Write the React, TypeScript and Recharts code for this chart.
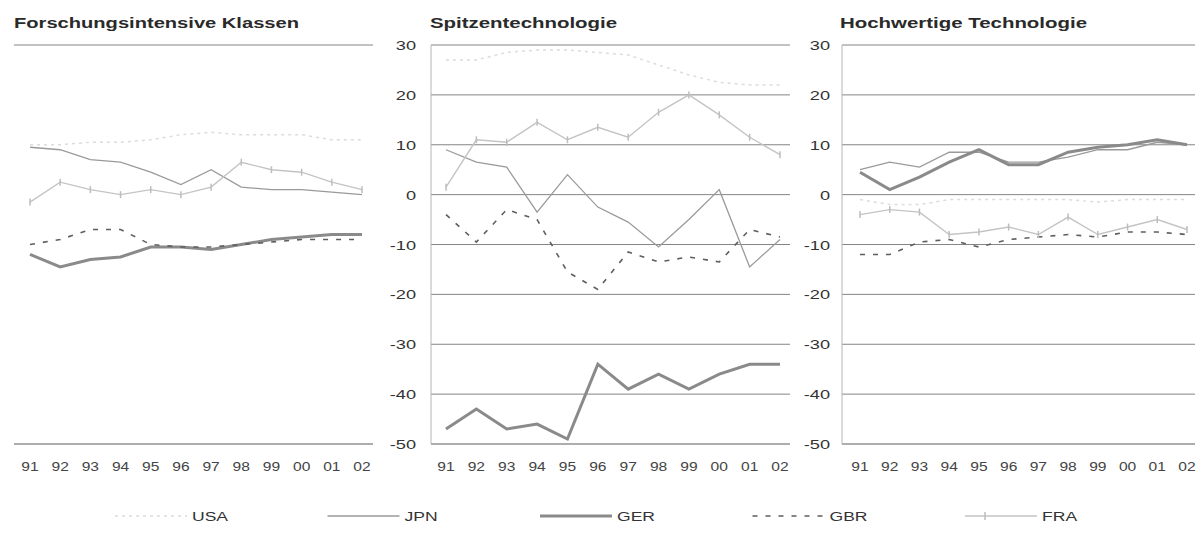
import React from 'react';
import { LineChart, Line, XAxis, YAxis, CartesianGrid } from 'recharts';

const years = ['91', '92', '93', '94', '95', '96', '97', '98', '99', '00', '01', '02'];
const yTicks = [-50, -40, -30, -20, -10, 0, 10, 20, 30];
const seriesNames = ['USA', 'JPN', 'GER', 'GBR', 'FRA'];
const panelTitles = ['Forschungsintensive Klassen', 'Spitzentechnologie', 'Hochwertige Technologie'];

// Forschungsintensive Klassen
const fkUSA = [10, 10, 10.5, 10.5, 11, 12, 12.5, 12, 12, 12, 11, 11];
const fkJPN = [9.5, 9, 7, 6.5, 4.5, 2, 5, 1.5, 1, 1, 0.5, 0];
const fkGER = [-12, -14.5, -13, -12.5, -10.5, -10.5, -11, -10, -9, -8.5, -8, -8];
const fkGBR = [-10, -9, -7, -7, -10, -10.5, -10.5, -10, -9.5, -9, -9, -9];
const fkFRA = [-1.5, 2.5, 1, 0, 1, 0, 1.5, 6.5, 5, 4.5, 2.5, 1];

// Spitzentechnologie
const stUSA = [27, 27, 28.5, 29, 29, 28.5, 28, 26, 24, 22.5, 22, 22];
const stJPN = [9, 6.5, 5.5, -3.5, 4, -2.5, -5.5, -10.5, -5, 1, -14.5, -9];
const stGER = [-47, -43, -47, -46, -49, -34, -39, -36, -39, -36, -34, -34];
const stGBR = [-4, -9.5, -3, -5, -15.5, -19, -11.5, -13.5, -12.5, -13.5, -7, -8.5];
const stFRA = [1.5, 11, 10.5, 14.5, 11, 13.5, 11.5, 16.5, 20, 16, 11.5, 8];

// Hochwertige Technologie
const htUSA = [-1, -2, -2, -1, -1, -1, -1, -1, -1.5, -1, -1, -1];
const htJPN = [5, 6.5, 5.5, 8.5, 8.5, 6.5, 6.5, 7.5, 9, 9, 10.5, 10];
const htGER = [4.5, 1, 3.5, 6.5, 9, 6, 6, 8.5, 9.5, 10, 11, 10];
const htGBR = [-12, -12, -9.5, -9, -10.5, -9, -8.5, -8, -8.5, -7.5, -7.5, -8];
const htFRA = [-4, -3, -3.5, -8, -7.5, -6.5, -8, -4.5, -8, -6.5, -5, -7];

const build = (usa: number[], jpn: number[], ger: number[], gbr: number[], fra: number[]) =>
  years.map((y, i) => ({ year: y, USA: usa[i], JPN: jpn[i], GER: ger[i], GBR: gbr[i], FRA: fra[i] }));

const fkData = build(fkUSA, fkJPN, fkGER, fkGBR, fkFRA);
const stData = build(stUSA, stJPN, stGER, stGBR, stFRA);
const htData = build(htUSA, htJPN, htGER, htGBR, htFRA);

const FONT = '"Liberation Sans", Arial, sans-serif';

const styles: Record<string, { stroke: string; width: number; dash?: string; tick?: boolean }> = {
  USA: { stroke: '#dcdcdc', width: 1.5, dash: '3 4' },
  JPN: { stroke: '#9a9a9a', width: 1.3 },
  GER: { stroke: '#8a8a8a', width: 3 },
  GBR: { stroke: '#5e5e5e', width: 1.6, dash: '5 8' },
  FRA: { stroke: '#c4c4c4', width: 1.4, tick: true },
};

const XTick = (props: any) => {
  const { x, y, payload } = props;
  return (
    <g transform={`translate(${x},${y})`}>
      <text x={0} y={27} textAnchor="middle" fontSize={12} fill="#444" fontFamily={FONT} transform="scale(1.3,1)">
        {payload.value}
      </text>
    </g>
  );
};

const makeYTick = (offset: number) => (props: any) => {
  const { x, y, payload } = props;
  return (
    <g transform={`translate(${x - offset},${y})`}>
      <text x={0} y={5} textAnchor="end" fontSize={13} fill="#333" fontFamily={FONT} transform="scale(1.4,1)">
        {payload.value}
      </text>
    </g>
  );
};

const FraDot = (props: any) => {
  const { cx, cy, index } = props;
  if (cx == null || cy == null) return <g key={`d${index}`} />;
  return <line key={`d${index}`} x1={cx} x2={cx} y1={cy - 3.5} y2={cy + 3.5} stroke="#bdbdbd" strokeWidth={1.5} />;
};

type PanelProps = {
  left: number;
  width: number;
  data: any[];
  yWidth: number;
  marginLeft: number;
  labelOffset: number | null;
  padding: { left: number; right: number };
};

function Panel({ left, width, data, yWidth, marginLeft, labelOffset, padding }: PanelProps) {
  return (
    <div style={{ position: 'absolute', left, top: 0 }}>
      <LineChart width={width} height={490} data={data} margin={{ top: 45, right: 5, left: marginLeft, bottom: 16 }}>
        <CartesianGrid vertical={false} stroke="#858585" />
        <XAxis
          dataKey="year"
          interval={0}
          height={30}
          tickSize={0}
          tickMargin={0}
          tickLine={false}
          axisLine={{ stroke: '#999' }}
          padding={padding}
          tick={<XTick />}
        />
        <YAxis
          domain={[-50, 30]}
          ticks={yTicks}
          interval={0}
          width={yWidth}
          tickSize={0}
          tickMargin={0}
          tickLine={false}
          axisLine={{ stroke: '#b5b5b5' }}
          tick={labelOffset == null ? false : makeYTick(labelOffset)}
        />
        {seriesNames.map((name) => {
          const s = styles[name];
          return (
            <Line
              key={name}
              dataKey={name}
              type="linear"
              stroke={s.stroke}
              strokeWidth={s.width}
              strokeDasharray={s.dash}
              dot={s.tick ? (p: any) => <FraDot {...p} /> : false}
              activeDot={false}
              isAnimationActive={false}
            />
          );
        })}
      </LineChart>
    </div>
  );
}

const titleX = [14, 430, 840];
const titleLen = [285, 187, 247];
const legendStart = 115;
const legendStep = 212.5;

export default function App() {
  return (
    <div style={{ position: 'absolute', left: 0, top: 0, width: 1204, height: 536, background: '#fff', overflow: 'hidden', fontFamily: FONT }}>
      <Panel left={0} width={378} data={fkData} yWidth={0} marginLeft={14} labelOffset={null} padding={{ left: 16, right: 11 }} />
      <Panel left={380} width={415} data={stData} yWidth={51} marginLeft={0} labelOffset={15} padding={{ left: 15, right: 10 }} />
      <Panel left={790} width={410} data={htData} yWidth={52} marginLeft={0} labelOffset={12} padding={{ left: 18, right: 8 }} />
      <svg width={1204} height={40} style={{ position: 'absolute', left: 0, top: 0 }}>
        {panelTitles.map((t, i) => (
          <text key={t} x={titleX[i]} y={28} fontSize={14} fontWeight="bold" fill="#2a2a2a" fontFamily={FONT} textLength={titleLen[i]} lengthAdjust="spacingAndGlyphs">
            {t}
          </text>
        ))}
      </svg>
      <svg width={1204} height={36} style={{ position: 'absolute', left: 0, top: 500 }}>
        {seriesNames.map((name, i) => {
          const s = styles[name];
          const x0 = legendStart + i * legendStep;
          const x1 = x0 + 72;
          return (
            <g key={name}>
              <line x1={x0} x2={x1} y1={16} y2={16} stroke={s.stroke} strokeWidth={s.width} strokeDasharray={s.dash} />
              {s.tick ? <line x1={x0 + 20} x2={x0 + 20} y1={12} y2={20} stroke="#bdbdbd" strokeWidth={1.5} /> : null}
              <text x={(x1 + 5) / 1.35} y={21} fontSize={13} fill="#333" fontFamily={FONT} transform="scale(1.35,1)">
                {name}
              </text>
            </g>
          );
        })}
      </svg>
    </div>
  );
}
